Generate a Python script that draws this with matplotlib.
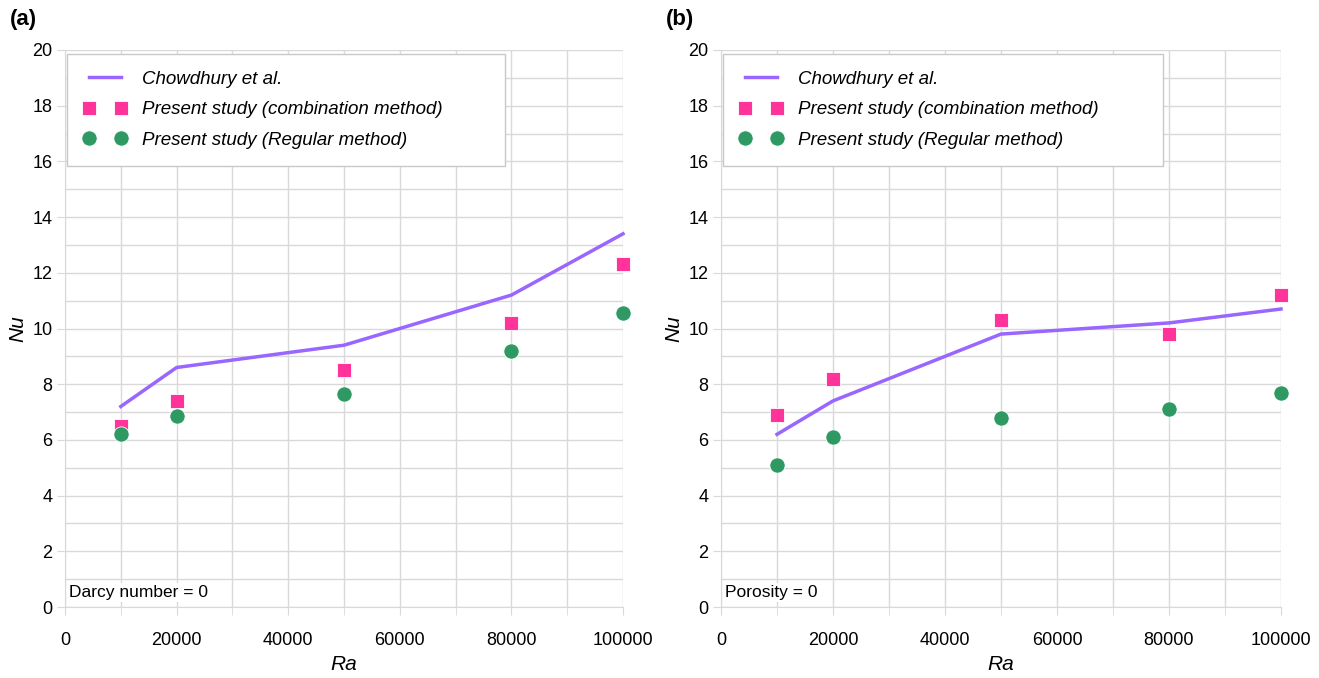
import matplotlib
matplotlib.use("Agg")
import matplotlib.pyplot as plt
from matplotlib.ticker import MultipleLocator

ra = [10000, 20000, 50000, 80000, 100000]
# panel (a): Darcy number = 0
chow_a = [7.2, 8.6, 9.4, 11.2, 13.4]
comb_a = [6.5, 7.4, 8.5, 10.2, 12.3]
reg_a = [6.2, 6.85, 7.65, 9.2, 10.55]
# panel (b): Porosity = 0
chow_b = [6.2, 7.4, 9.8, 10.2, 10.7]
comb_b = [6.9, 8.2, 10.3, 9.8, 11.2]
reg_b = [5.1, 6.1, 6.8, 7.1, 7.7]

PURPLE, PINK, GREEN, GRID = "#9966ff", "#ff3399", "#2e9963", "#d9d9d9"
plt.rcParams["font.family"] = ["Liberation Sans", "DejaVu Sans"]

fig = plt.figure(figsize=(13.19, 6.78), dpi=100)
W, H = 1319, 678
panels = [
    (fig.add_axes([65 / W, 1 - 607 / H, 558 / W, 557 / H]), chow_a, comb_a, reg_a, "(a)", "Darcy number = 0", 10),
    (fig.add_axes([721 / W, 1 - 607 / H, 560 / W, 557 / H]), chow_b, comb_b, reg_b, "(b)", "Porosity = 0", 666),
]
for ax, chow, comb, reg, tag, note, tagx in panels:
    ax.plot(ra, chow, color=PURPLE, lw=2.5, label="Chowdhury et al.", zorder=3, clip_on=False)
    ax.plot(ra, comb, ls="none", marker="s", ms=10, color=PINK, mec="white", mew=0.6,
            label="Present study (combination method)", zorder=4, clip_on=False)
    ax.plot(ra, reg, ls="none", marker="o", ms=11, color=GREEN, mec="white", mew=0.6,
            label="Present study (Regular method)", zorder=5, clip_on=False)
    ax.set_xlim(0, 100000)
    ax.set_ylim(0, 20)
    ax.xaxis.set_major_locator(MultipleLocator(20000))
    ax.xaxis.set_minor_locator(MultipleLocator(10000))
    ax.yaxis.set_major_locator(MultipleLocator(2))
    ax.yaxis.set_minor_locator(MultipleLocator(1))
    ax.grid(which="both", color=GRID, lw=1.0, zorder=0)
    ax.set_axisbelow(True)
    for s in ax.spines.values():
        s.set_visible(False)
    ax.spines["left"].set_visible(True)
    ax.spines["left"].set_color(GRID)
    ax.spines["bottom"].set_visible(True)
    ax.spines["bottom"].set_color(GRID)
    ax.tick_params(which="both", length=6, color=GRID, labelsize=13, pad=3)
    ax.tick_params(axis="y", which="minor", length=0)
    ax.tick_params(axis="x", which="major", pad=12)
    ax.set_xlabel("Ra", fontsize=15, style="italic", labelpad=4)
    ax.set_ylabel("Nu", fontsize=15, style="italic")
    ax.yaxis.set_label_coords(-0.067, 0.5)
    ax.text(0.008, 0.012, note, transform=ax.transAxes, fontsize=12.5, ha="left", va="bottom",
            bbox=dict(facecolor="white", edgecolor="none", pad=1.5), zorder=6)
    fig.text(tagx / W, 1 - 19 / H, tag, fontsize=16, fontweight="bold", ha="left", va="center")
    leg = ax.legend(loc="upper left", bbox_to_anchor=(0.0, 0.0, 0.792, 0.997), mode="expand",
                    numpoints=2, prop={"style": "italic", "size": 13.5}, fancybox=False,
                    framealpha=1, edgecolor="#c8c8c8", borderpad=0.9, handlelength=2.3,
                    handletextpad=0.8, labelspacing=0.72, borderaxespad=0.1)
    leg.get_frame().set_linewidth(1.0)

fig.savefig("out.png", dpi=100)
